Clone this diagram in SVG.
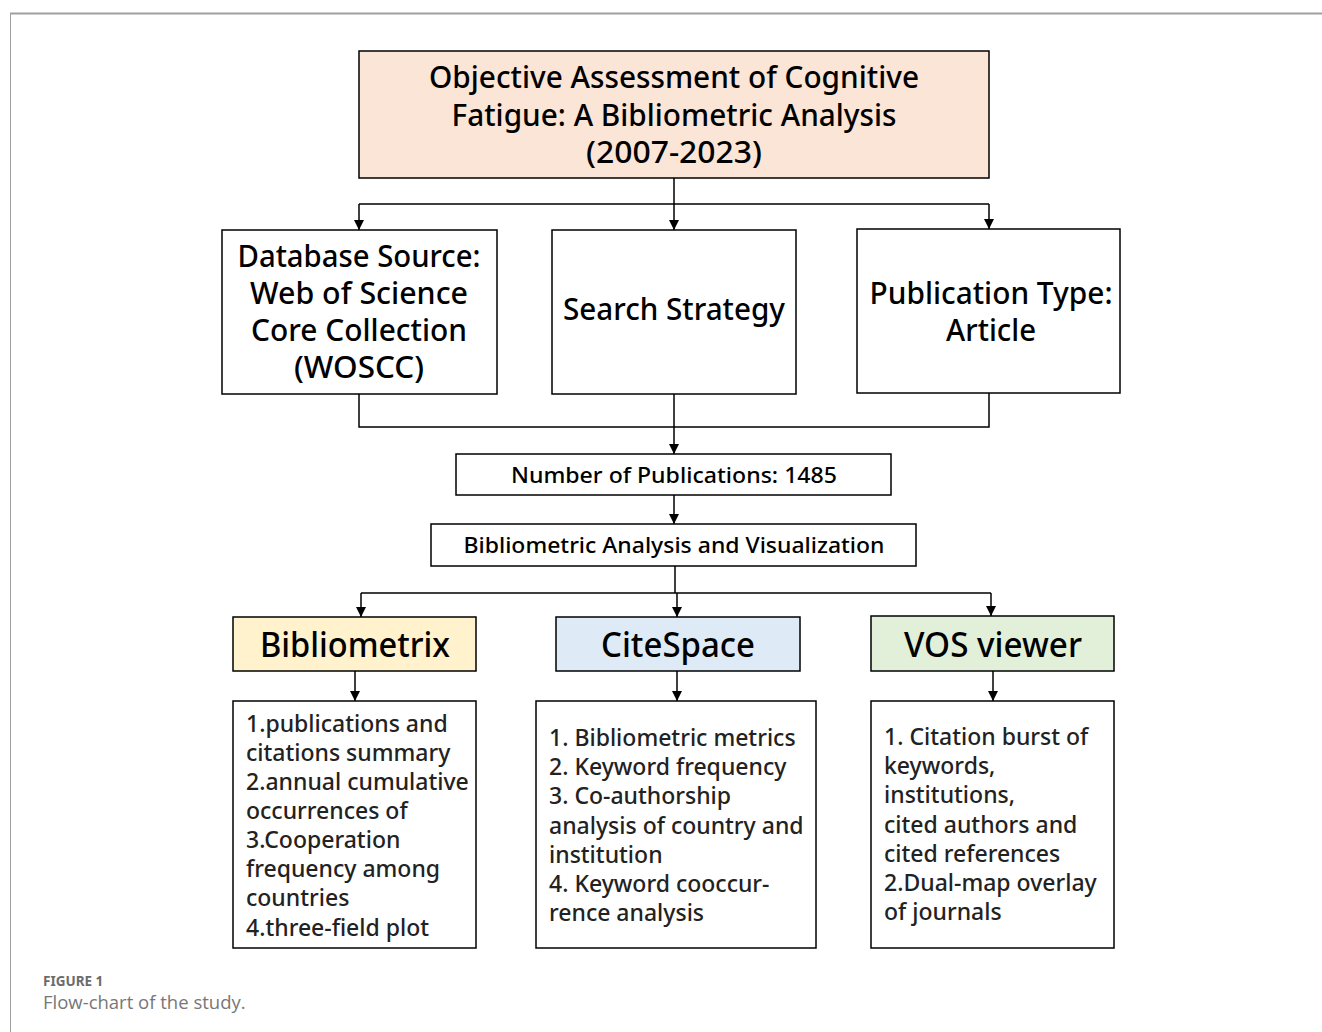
<svg xmlns="http://www.w3.org/2000/svg" width="1322" height="1032" viewBox="0 0 1322 1032">
<style>
.box{stroke:#000;stroke-width:1.5}
.t{font-family:"Noto Sans","Open Sans",sans-serif;fill:#000;text-anchor:middle;font-weight:500}
.b{font-family:"Noto Sans","Open Sans",sans-serif;fill:#222;font-size:23px;font-weight:500}
.c{fill:none;stroke:#000;stroke-width:1.5}
</style>
<defs>
<marker id="arr" markerWidth="10" markerHeight="10" refX="10" refY="5" orient="auto" markerUnits="userSpaceOnUse" viewBox="0 0 10 10">
<path d="M0,0 L10,5 L0,10 Z" fill="#000"/>
</marker>
</defs>
<rect width="1322" height="1032" fill="#fff"/>
<g id="frame">
<line x1="10" y1="13.5" x2="1322" y2="13.5" stroke="#a0a0a0" stroke-width="2"/>
<line x1="10.5" y1="13" x2="10.5" y2="1032" stroke="#a0a0a0" stroke-width="1"/>
</g>
<g id="connectors">
<path class="c" d="M674,178 V204 M359,204 H989"/>
<path class="c" d="M359,204 V230" marker-end="url(#arr)"/>
<path class="c" d="M674,204 V230" marker-end="url(#arr)"/>
<path class="c" d="M989,204 V229" marker-end="url(#arr)"/>
<path class="c" d="M359,394 V427 H989 V393"/>
<path class="c" d="M674,394 V454" marker-end="url(#arr)"/>
<path class="c" d="M674,495 V524" marker-end="url(#arr)"/>
<path class="c" d="M675,566 V593 M361,593 H991"/>
<path class="c" d="M361,593 V617" marker-end="url(#arr)"/>
<path class="c" d="M677,593 V617" marker-end="url(#arr)"/>
<path class="c" d="M991,593 V616" marker-end="url(#arr)"/>
<path class="c" d="M355,671 V701" marker-end="url(#arr)"/>
<path class="c" d="M677,671 V701" marker-end="url(#arr)"/>
<path class="c" d="M993,671 V701" marker-end="url(#arr)"/>
</g>
<g id="title">
<rect class="box" x="359" y="51" width="630" height="127" fill="#FBE5D6"/>
<text class="t" font-size="30" x="674" y="88" textLength="490" lengthAdjust="spacingAndGlyphs">Objective Assessment of Cognitive</text>
<text class="t" font-size="30" x="674" y="126" textLength="445" lengthAdjust="spacingAndGlyphs">Fatigue: A Bibliometric Analysis</text>
<text class="t" font-size="30" x="674" y="163" textLength="176" lengthAdjust="spacingAndGlyphs">(2007-2023)</text>
</g>
<g id="database">
<rect class="box" x="222" y="230" width="275" height="164" fill="#fff"/>
<text class="t" font-size="30" x="359" y="267" textLength="243" lengthAdjust="spacingAndGlyphs">Database Source:</text>
<text class="t" font-size="30" x="359" y="304" textLength="218" lengthAdjust="spacingAndGlyphs">Web of Science</text>
<text class="t" font-size="30" x="359" y="341" textLength="216" lengthAdjust="spacingAndGlyphs">Core Collection</text>
<text class="t" font-size="30" x="359" y="378" textLength="130" lengthAdjust="spacingAndGlyphs">(WOSCC)</text>
</g>
<g id="search">
<rect class="box" x="552" y="230" width="244" height="164" fill="#fff"/>
<text class="t" font-size="30" x="674" y="320" textLength="222" lengthAdjust="spacingAndGlyphs">Search Strategy</text>
</g>
<g id="pubtype">
<rect class="box" x="857" y="229" width="263" height="164" fill="#fff"/>
<text class="t" font-size="30" x="991" y="304" textLength="243" lengthAdjust="spacingAndGlyphs">Publication Type:</text>
<text class="t" font-size="30" x="991" y="341" textLength="90" lengthAdjust="spacingAndGlyphs">Article</text>
</g>
<g id="number">
<rect class="box" x="456" y="454" width="435" height="41" fill="#fff"/>
<text class="t" font-size="22" x="674" y="483" textLength="326" lengthAdjust="spacingAndGlyphs">Number of Publications: 1485</text>
</g>
<g id="analysis">
<rect class="box" x="431" y="524" width="485" height="42" fill="#fff"/>
<text class="t" font-size="22" x="674" y="553" textLength="421" lengthAdjust="spacingAndGlyphs">Bibliometric Analysis and Visualization</text>
</g>
<g id="bibliometrix">
<rect class="box" x="233" y="617" width="243" height="54" fill="#FFF2CC"/>
<text class="t" font-size="34" x="355" y="657" textLength="190" lengthAdjust="spacingAndGlyphs">Bibliometrix</text>
</g>
<g id="citespace">
<rect class="box" x="556" y="617" width="244" height="54" fill="#DEEBF7"/>
<text class="t" font-size="34" x="678" y="657" textLength="154" lengthAdjust="spacingAndGlyphs">CiteSpace</text>
</g>
<g id="vosviewer">
<rect class="box" x="871" y="616" width="243" height="55" fill="#E2F0D9"/>
<text class="t" font-size="34" x="993" y="657" textLength="178" lengthAdjust="spacingAndGlyphs">VOS viewer</text>
</g>
<g id="bibliometrix-details">
<rect class="box" x="233" y="701" width="243" height="247" fill="#fff"/>
<text class="b" x="246" y="732">1.publications and</text>
<text class="b" x="246" y="761">citations summary</text>
<text class="b" x="246" y="790">2.annual cumulative</text>
<text class="b" x="246" y="819">occurrences of</text>
<text class="b" x="246" y="848">3.Cooperation</text>
<text class="b" x="246" y="877">frequency among</text>
<text class="b" x="246" y="906">countries</text>
<text class="b" x="246" y="936">4.three-field plot</text>
</g>
<g id="citespace-details">
<rect class="box" x="536" y="701" width="280" height="247" fill="#fff"/>
<text class="b" x="549" y="746">1. Bibliometric metrics</text>
<text class="b" x="549" y="775">2. Keyword frequency</text>
<text class="b" x="549" y="804">3. Co-authorship</text>
<text class="b" x="549" y="834">analysis of country and</text>
<text class="b" x="549" y="863">institution</text>
<text class="b" x="549" y="892">4. Keyword cooccur-</text>
<text class="b" x="549" y="921">rence analysis</text>
</g>
<g id="vos-details">
<rect class="box" x="871" y="701" width="243" height="247" fill="#fff"/>
<text class="b" x="884" y="745">1. Citation burst of</text>
<text class="b" x="884" y="774">keywords,</text>
<text class="b" x="884" y="803">institutions,</text>
<text class="b" x="884" y="833">cited authors and</text>
<text class="b" x="884" y="862">cited references</text>
<text class="b" x="884" y="891">2.Dual-map overlay</text>
<text class="b" x="884" y="920">of journals</text>
</g>
<g id="caption">
<text x="43" y="986" font-family="'Noto Sans','Open Sans',sans-serif" font-size="13.5" font-weight="bold" fill="#6b6b6b">FIGURE 1</text>
<text x="43" y="1009" font-family="'Open Sans','Noto Sans',sans-serif" font-size="18.5" fill="#777">Flow-chart of the study.</text>
</g>
</svg>
